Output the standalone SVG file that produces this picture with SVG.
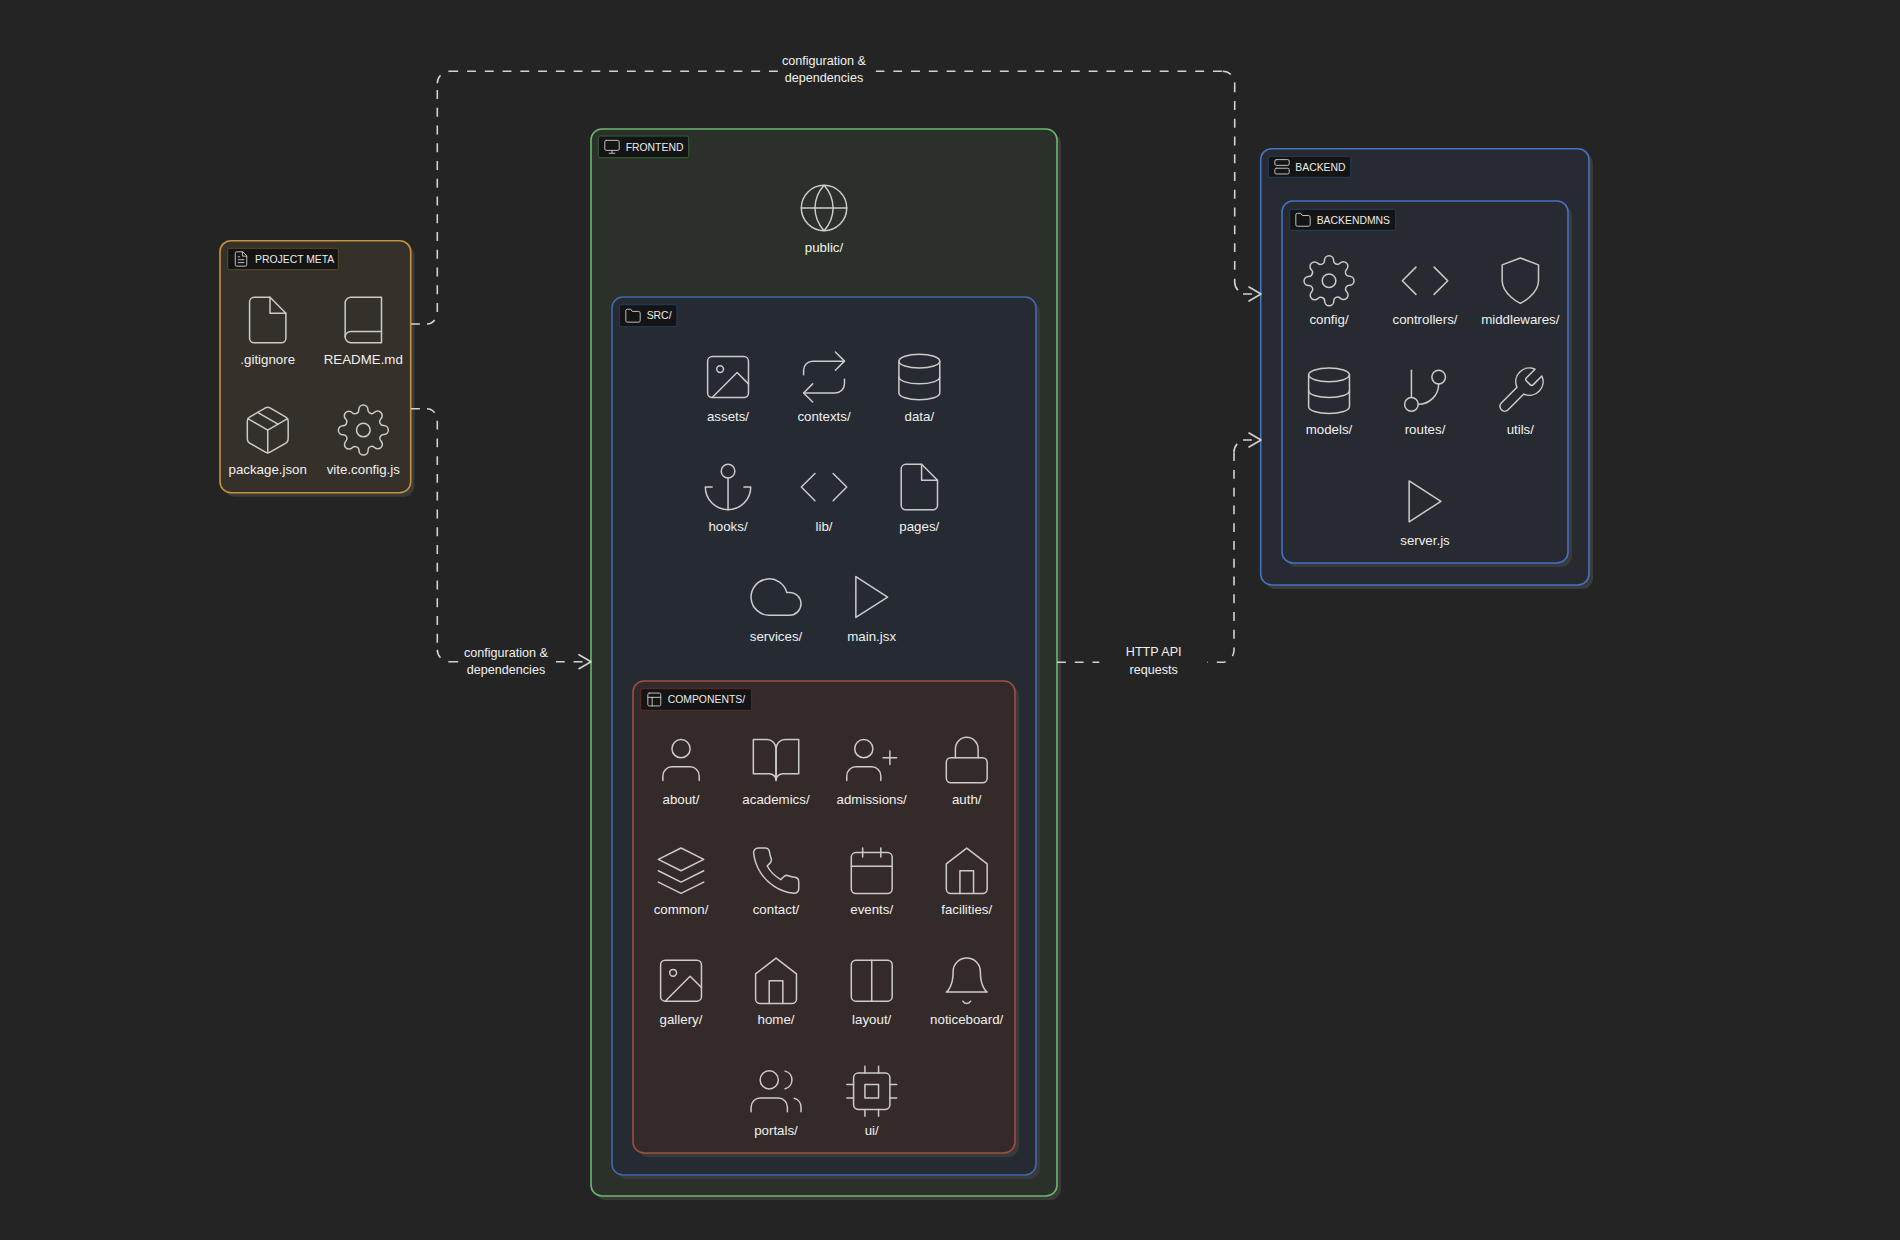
<svg xmlns="http://www.w3.org/2000/svg" width="1900" height="1240" viewBox="0 0 1900 1240">
<style>
text{font-family:"Liberation Sans",Arial,sans-serif}
.bg{fill:#242424}
.sh{fill:#3a3a3a}
.lb{font-size:13.3px;fill:#f0f0f0;text-anchor:middle}
.cl{font-size:12.6px;fill:#f0f0f0;text-anchor:middle}
.ct{font-size:10.4px;fill:#ececec}
.chip{fill:#141414;stroke-width:1}
.ic{fill:none;stroke:#cbcbcb;stroke-width:.66;stroke-linecap:round;stroke-linejoin:round}
.ci{fill:none;stroke:#c4c4c4;stroke-width:1.35;stroke-linecap:round;stroke-linejoin:round}
.grp{stroke-width:1.6}
.edge{fill:none;stroke:#d2d2d2;stroke-width:1.6;stroke-dasharray:8.88 8.88;marker-end:url(#arr)}
</style>
<defs>
<marker id="arr" markerUnits="userSpaceOnUse" markerWidth="20" markerHeight="20" refX="14" refY="10" orient="0" overflow="visible"><path d="M2 3L14 10L2 17" fill="none" stroke="#d2d2d2" stroke-width="1.6" stroke-linecap="round" stroke-linejoin="round"/></marker>
<g id="i-file"><path d="M13 2H6a2 2 0 0 0-2 2v16a2 2 0 0 0 2 2h12a2 2 0 0 0 2-2V9z"/><path d="M13 2v7h7"/></g>
<g id="i-book"><path d="M4 19.5A2.5 2.5 0 0 1 6.5 17H20"/><path d="M6.5 2H20v20H6.500A2.500 2.500 0 0 1 4 19.500v-15A2.500 2.500 0 0 1 6.500 2z"/></g>
<g id="i-package"><path d="M16.500 9.400 7.500 4.210"/><path d="M21 16V8a2 2 0 0 0-1-1.730l-7-4a2 2 0 0 0-2 0l-7 4A2 2 0 0 0 3 8v8a2 2 0 0 0 1 1.730l7 4a2 2 0 0 0 2 0l7-4A2 2 0 0 0 21 16z"/><path d="M3.270 6.960 12 12.010l8.730-5.050"/><path d="M12 22.080V12"/></g>
<g id="i-gear"><circle cx="12" cy="12" r="3"/><path d="M19.400 15a1.650 1.650 0 0 0 .33 1.820l.06.06a2 2 0 0 1 0 2.830 2 2 0 0 1-2.830 0l-.06-.06a1.650 1.650 0 0 0-1.820-.33 1.650 1.650 0 0 0-1 1.510V21a2 2 0 0 1-2 2 2 2 0 0 1-2-2v-.09A1.650 1.650 0 0 0 9 19.400a1.650 1.650 0 0 0-1.820.33l-.06.06a2 2 0 0 1-2.830 0 2 2 0 0 1 0-2.830l.06-.06a1.650 1.650 0 0 0 .33-1.820 1.650 1.650 0 0 0-1.510-1H3a2 2 0 0 1-2-2 2 2 0 0 1 2-2h.09A1.650 1.650 0 0 0 4.600 9a1.650 1.650 0 0 0-.33-1.820l-.06-.06a2 2 0 0 1 0-2.830 2 2 0 0 1 2.830 0l.06.06a1.650 1.650 0 0 0 1.820.33H9a1.650 1.650 0 0 0 1-1.510V3a2 2 0 0 1 2-2 2 2 0 0 1 2 2v.09a1.650 1.650 0 0 0 1 1.510 1.650 1.650 0 0 0 1.820-.33l.06-.06a2 2 0 0 1 2.830 0 2 2 0 0 1 0 2.830l-.06.06a1.650 1.650 0 0 0-.33 1.820V9a1.650 1.650 0 0 0 1.510 1H21a2 2 0 0 1 2 2 2 2 0 0 1-2 2h-.09a1.650 1.650 0 0 0-1.510 1z"/></g>
<g id="i-code"><path d="M16 18l6-6-6-6"/><path d="M8 6l-6 6 6 6"/></g>
<g id="i-shield"><path d="M12 22s8-4 8-10V5l-8-3-8 3v7c0 6 8 10 8 10z"/></g>
<g id="i-db"><ellipse cx="12" cy="5" rx="9" ry="3"/><path d="M21 12c0 1.660-4 3-9 3s-9-1.340-9-3"/><path d="M3 5v14c0 1.660 4 3 9 3s9-1.340 9-3V5"/></g>
<g id="i-branch"><path d="M6 3v12"/><circle cx="18" cy="6" r="3"/><circle cx="6" cy="18" r="3"/><path d="M18 9a9 9 0 0 1-9 9"/></g>
<g id="i-wrench"><path d="M14.700 6.300a1 1 0 0 0 0 1.400l1.600 1.600a1 1 0 0 0 1.400 0l3.770-3.770a6 6 0 0 1-7.940 7.940l-6.910 6.910a2.120 2.120 0 0 1-3-3l6.910-6.910a6 6 0 0 1 7.940-7.940l-3.760 3.760z"/></g>
<g id="i-play"><polygon points="5 3 19 12 5 21 5 3"/></g>
<g id="i-image"><rect x="3" y="3" width="18" height="18" rx="2"/><circle cx="8.500" cy="8.500" r="1.500"/><path d="M21 15l-5-5L5 21"/></g>
<g id="i-repeat"><path d="M17 1l4 4-4 4"/><path d="M3 11V9a4 4 0 0 1 4-4h14"/><path d="M7 23l-4-4 4-4"/><path d="M21 13v2a4 4 0 0 1-4 4H3"/></g>
<g id="i-anchor"><path d="M12 22V8"/><path d="M5 12H2a10 10 0 0 0 20 0h-3"/><circle cx="12" cy="5" r="3"/></g>
<g id="i-cloud"><path d="M18 10h-1.260A8 8 0 1 0 9 20h9a5 5 0 0 0 0-10z"/></g>
<g id="i-user"><path d="M20 21v-2a4 4 0 0 0-4-4H8a4 4 0 0 0-4 4v2"/><circle cx="12" cy="7" r="4"/></g>
<g id="i-bookopen"><path d="M2 3h6a4 4 0 0 1 4 4v14a3 3 0 0 0-3-3H2z"/><path d="M22 3h-6a4 4 0 0 0-4 4v14a3 3 0 0 1 3-3h7z"/></g>
<g id="i-userplus"><path d="M16 21v-2a4 4 0 0 0-4-4H5a4 4 0 0 0-4 4v2"/><circle cx="8.500" cy="7" r="4"/><path d="M20 8v6"/><path d="M23 11h-6"/></g>
<g id="i-lock"><rect x="3" y="11" width="18" height="11" rx="2"/><path d="M7 11V7a5 5 0 0 1 10 0v4"/></g>
<g id="i-layers"><polygon points="12 2 2 7 12 12 22 7 12 2"/><path d="M2 17 12 22 22 17"/><path d="M2 12 12 17 22 12"/></g>
<g id="i-phone"><path d="M22 16.920v3a2 2 0 0 1-2.180 2 19.790 19.790 0 0 1-8.630-3.070 19.500 19.500 0 0 1-6-6 19.790 19.790 0 0 1-3.070-8.670A2 2 0 0 1 4.110 2h3a2 2 0 0 1 2 1.720 12.840 12.840 0 0 0 .7 2.810 2 2 0 0 1-.45 2.110L8.090 9.910a16 16 0 0 0 6 6l1.270-1.270a2 2 0 0 1 2.110-.45 12.840 12.840 0 0 0 2.810.7A2 2 0 0 1 22 16.920z"/></g>
<g id="i-cal"><path d="M8 2v4"/><path d="M16 2v4"/><rect x="3" y="4" width="18" height="18" rx="2"/><path d="M3 10h18"/></g>
<g id="i-home"><path d="M3 9l9-7 9 7v11a2 2 0 0 1-2 2H5a2 2 0 0 1-2-2z"/><path d="M9 22V12h6v10"/></g>
<g id="i-cols"><rect x="3" y="3" width="18" height="18" rx="2"/><path d="M12 3v18"/></g>
<g id="i-bell"><path d="M18 8A6 6 0 0 0 6 8c0 7-3 9-3 9h18s-3-2-3-9"/><path d="M13.730 21a2 2 0 0 1-3.460 0"/></g>
<g id="i-users"><path d="M17 21v-2a4 4 0 0 0-4-4H5a4 4 0 0 0-4 4v2"/><circle cx="9" cy="7" r="4"/><path d="M23 21v-2a4 4 0 0 0-3-3.870"/><path d="M16 3.130a4 4 0 0 1 0 7.750"/></g>
<g id="i-cpu"><rect x="4" y="4" width="16" height="16" rx="2"/><rect x="9" y="9" width="6" height="6"/><path d="M9 1v3M15 1v3M9 20v3M15 20v3M20 9h3M20 15h3M1 9h3M1 15h3"/></g>
<g id="i-globe"><circle cx="12" cy="12" r="10"/><path d="M2 12h20"/><path d="M12 2a15.300 15.300 0 0 1 4 10 15.300 15.300 0 0 1-4 10 15.300 15.300 0 0 1-4-10 15.300 15.300 0 0 1 4-10z"/></g>
<g id="i-monitor"><rect x="2" y="3" width="20" height="14" rx="2"/><path d="M8 21h8"/><path d="M12 17v4"/></g>
<g id="i-folder"><path d="M22 19a2 2 0 0 1-2 2H4a2 2 0 0 1-2-2V5a2 2 0 0 1 2-2h5l2 3h9a2 2 0 0 1 2 2z"/></g>
<g id="i-layout"><rect x="3" y="3" width="18" height="18" rx="2"/><path d="M3 9h18"/><path d="M9 21V9"/></g>
<g id="i-server"><rect x="2" y="2" width="20" height="8" rx="2"/><rect x="2" y="14" width="20" height="8" rx="2"/></g>
<g id="i-filetext"><path d="M14 2H6a2 2 0 0 0-2 2v16a2 2 0 0 0 2 2h12a2 2 0 0 0 2-2V8z"/><path d="M14 2v6h6"/><path d="M16 13H8"/><path d="M16 17H8"/><path d="M10 9H8"/></g>
</defs>
<rect class="bg" width="1900" height="1240"/>

<g id="groups">
<g id="project-meta">
<rect class="sh" x="224" y="244.700" width="190.500" height="252" rx="11"/>
<rect class="grp" x="220" y="240.700" width="190.700" height="252" rx="11" fill="#35312a" stroke="#c4933c"/>
<rect class="chip" x="227.700" y="248.300" width="110.600" height="21.400" rx="2" stroke="#5c4a26"/>
<use class="ci" href="#i-filetext" transform="translate(232.400 250.400) scale(.717)"/>
<text class="ct" x="255" y="262.700">PROJECT META</text>
</g>
<g id="frontend">
<rect class="sh" x="595" y="133" width="466" height="1067" rx="11"/>
<rect class="grp" x="591" y="129" width="466" height="1067" rx="11" fill="#2b302a" stroke="#68b86c"/>
<rect class="chip" x="598.300" y="136" width="90.400" height="21.700" rx="2" stroke="#35603a"/>
<use class="ci" href="#i-monitor" transform="translate(603.400 138.200) scale(.717)"/>
<text class="ct" x="625.700" y="150.500">FRONTEND</text>
</g>
<g id="src">
<rect class="sh" x="616" y="301" width="424" height="878" rx="11"/>
<rect class="grp" x="612" y="297" width="424" height="878" rx="11" fill="#262a33" stroke="#3f69ad"/>
<rect class="chip" x="619.300" y="304.700" width="57.700" height="22" rx="2" stroke="#263c62"/>
<use class="ci" href="#i-folder" transform="translate(624.400 307.100) scale(.717)"/>
<text class="ct" x="646.700" y="319.400">SRC/</text>
</g>
<g id="components">
<rect class="sh" x="637" y="685" width="382" height="472" rx="11"/>
<rect class="grp" x="633" y="681" width="382" height="472" rx="11" fill="#342a29" stroke="#a04d44"/>
<rect class="chip" x="640.700" y="688.700" width="111" height="21.600" rx="2" stroke="#5a2d29"/>
<use class="ci" href="#i-layout" transform="translate(645.700 690.900) scale(.717)"/>
<text class="ct" x="667.700" y="703.200">COMPONENTS/</text>
</g>
<g id="backend">
<rect class="sh" x="1264.700" y="152.700" width="328.300" height="436.300" rx="11"/>
<rect class="grp" x="1260.700" y="148.700" width="328.300" height="436.300" rx="11" fill="#272a30" stroke="#4472c4"/>
<rect class="chip" x="1268.300" y="156.300" width="82.400" height="21" rx="2" stroke="#263c62"/>
<use class="ci" href="#i-server" transform="translate(1273.400 158.200) scale(.717)"/>
<text class="ct" x="1295.300" y="170.500">BACKEND</text>
</g>
<g id="backendmns">
<rect class="sh" x="1286" y="205" width="286" height="362" rx="11"/>
<rect class="grp" x="1282" y="201" width="286" height="362" rx="11" fill="#272a30" stroke="#4472c4"/>
<rect class="chip" x="1289.700" y="209.300" width="106" height="21" rx="2" stroke="#263c62"/>
<use class="ci" href="#i-folder" transform="translate(1294.400 211.200) scale(.717)"/>
<text class="ct" x="1316.700" y="223.500">BACKENDMNS</text>
</g>
</g>

<g id="n-gitignore"><use class="ic" href="#i-file" transform="translate(240.500 292.800) scale(2.27)"/><text class="lb" x="267.700" y="363.500">.gitignore</text></g>
<g id="n-readme"><use class="ic" href="#i-book" transform="translate(336.100 292.800) scale(2.27)"/><text class="lb" x="363.300" y="363.500">README.md</text></g>
<g id="n-package"><use class="ic" href="#i-package" transform="translate(240.500 402.800) scale(2.27)"/><text class="lb" x="267.700" y="473.500">package.json</text></g>
<g id="n-vite"><use class="ic" href="#i-gear" transform="translate(336.100 402.800) scale(2.27)"/><text class="lb" x="363.300" y="473.500">vite.config.js</text></g>

<g id="n-public"><use class="ic" href="#i-globe" transform="translate(796.800 180.800) scale(2.27)"/><text class="lb" x="824" y="251.500">public/</text></g>

<g id="n-assets"><use class="ic" href="#i-image" transform="translate(700.800 349.800) scale(2.27)"/><text class="lb" x="728" y="420.500">assets/</text></g>
<g id="n-contexts"><use class="ic" href="#i-repeat" transform="translate(796.800 349.800) scale(2.27)"/><text class="lb" x="824" y="420.500">contexts/</text></g>
<g id="n-data"><use class="ic" href="#i-db" transform="translate(892.100 349.800) scale(2.27)"/><text class="lb" x="919.300" y="420.500">data/</text></g>
<g id="n-hooks"><use class="ic" href="#i-anchor" transform="translate(700.800 459.800) scale(2.27)"/><text class="lb" x="728" y="530.500">hooks/</text></g>
<g id="n-lib"><use class="ic" href="#i-code" transform="translate(796.800 459.800) scale(2.27)"/><text class="lb" x="824" y="530.500">lib/</text></g>
<g id="n-pages"><use class="ic" href="#i-file" transform="translate(892.100 459.800) scale(2.27)"/><text class="lb" x="919.300" y="530.500">pages/</text></g>
<g id="n-services"><use class="ic" href="#i-cloud" transform="translate(748.800 569.800) scale(2.27)"/><text class="lb" x="776" y="640.500">services/</text></g>
<g id="n-main"><use class="ic" href="#i-play" transform="translate(844.500 569.800) scale(2.27)"/><text class="lb" x="871.700" y="640.500">main.jsx</text></g>

<g id="n-about"><use class="ic" href="#i-user" transform="translate(653.800 732.800) scale(2.27)"/><text class="lb" x="681" y="803.500">about/</text></g>
<g id="n-academics"><use class="ic" href="#i-bookopen" transform="translate(748.800 732.800) scale(2.27)"/><text class="lb" x="776" y="803.500">academics/</text></g>
<g id="n-admissions"><use class="ic" href="#i-userplus" transform="translate(844.500 732.800) scale(2.27)"/><text class="lb" x="871.700" y="803.500">admissions/</text></g>
<g id="n-auth"><use class="ic" href="#i-lock" transform="translate(939.500 732.800) scale(2.27)"/><text class="lb" x="966.700" y="803.500">auth/</text></g>
<g id="n-common"><use class="ic" href="#i-layers" transform="translate(653.800 843.500) scale(2.27)"/><text class="lb" x="681" y="914.200">common/</text></g>
<g id="n-contact"><use class="ic" href="#i-phone" transform="translate(748.800 843.500) scale(2.27)"/><text class="lb" x="776" y="914.200">contact/</text></g>
<g id="n-events"><use class="ic" href="#i-cal" transform="translate(844.500 843.500) scale(2.27)"/><text class="lb" x="871.700" y="914.200">events/</text></g>
<g id="n-facilities"><use class="ic" href="#i-home" transform="translate(939.500 843.500) scale(2.27)"/><text class="lb" x="966.700" y="914.200">facilities/</text></g>
<g id="n-gallery"><use class="ic" href="#i-image" transform="translate(653.800 953.500) scale(2.27)"/><text class="lb" x="681" y="1024.200">gallery/</text></g>
<g id="n-home"><use class="ic" href="#i-home" transform="translate(748.800 953.500) scale(2.27)"/><text class="lb" x="776" y="1024.200">home/</text></g>
<g id="n-layout"><use class="ic" href="#i-cols" transform="translate(844.500 953.500) scale(2.27)"/><text class="lb" x="871.700" y="1024.200">layout/</text></g>
<g id="n-noticeboard"><use class="ic" href="#i-bell" transform="translate(939.500 953.500) scale(2.27)"/><text class="lb" x="966.700" y="1024.200">noticeboard/</text></g>
<g id="n-portals"><use class="ic" href="#i-users" transform="translate(748.800 1064) scale(2.27)"/><text class="lb" x="776" y="1134.800">portals/</text></g>
<g id="n-ui"><use class="ic" href="#i-cpu" transform="translate(844.500 1064) scale(2.27)"/><text class="lb" x="871.700" y="1134.800">ui/</text></g>

<g id="n-config"><use class="ic" href="#i-gear" transform="translate(1301.800 253.500) scale(2.27)"/><text class="lb" x="1329" y="324.200">config/</text></g>
<g id="n-controllers"><use class="ic" href="#i-code" transform="translate(1397.800 253.500) scale(2.27)"/><text class="lb" x="1425" y="324.200">controllers/</text></g>
<g id="n-middlewares"><use class="ic" href="#i-shield" transform="translate(1493.100 253.500) scale(2.27)"/><text class="lb" x="1520.300" y="324.200">middlewares/</text></g>
<g id="n-models"><use class="ic" href="#i-db" transform="translate(1301.800 363.500) scale(2.27)"/><text class="lb" x="1329" y="434.200">models/</text></g>
<g id="n-routes"><use class="ic" href="#i-branch" transform="translate(1397.800 363.500) scale(2.27)"/><text class="lb" x="1425" y="434.200">routes/</text></g>
<g id="n-utils"><use class="ic" href="#i-wrench" transform="translate(1493.100 363.500) scale(2.27)"/><text class="lb" x="1520.300" y="434.200">utils/</text></g>
<g id="n-server"><use class="ic" href="#i-play" transform="translate(1397.800 474.100) scale(2.27)"/><text class="lb" x="1425" y="544.800">server.js</text></g>

<g id="connectors">
<path class="edge" d="M411 324H426M427 324A10.300 12 0 0 0 437.300 312M437.300 312V83.300M437.300 83.300A12 12 0 0 1 449.300 71.300M449.300 71.300H1222.700M1222.700 71.300A12 12 0 0 1 1234.700 83.300M1234.700 83.300V282M1234.700 282A12 12 0 0 0 1246.700 294M1243 294H1261"/>
<rect class="bg" x="778.400" y="54" width="97.400" height="32"/>
<text class="cl" x="824" y="64.800">configuration &amp;</text>
<text class="cl" x="824" y="82">dependencies</text>
<path class="edge" d="M411 408.700H426M427 408.700A10.300 12 0 0 1 437.300 420.700M437.300 420.700V649.700M437.300 649.700A12 12 0 0 0 449.300 661.700M449.300 661.700H591"/>
<rect class="bg" x="459" y="645" width="96.500" height="32"/>
<text class="cl" x="506" y="656.800">configuration &amp;</text>
<text class="cl" x="506" y="673.800">dependencies</text>
<path class="edge" d="M1057 662.300H1222A12 12 0 0 0 1234 650.300V452M1234 452A12 12 0 0 1 1246 440M1243 440H1261"/>
<rect class="bg" x="1099.300" y="645" width="108.100" height="32"/>
<text class="cl" x="1153.700" y="656.300">HTTP API</text>
<text class="cl" x="1153.700" y="673.800">requests</text>
</g>
</svg>
